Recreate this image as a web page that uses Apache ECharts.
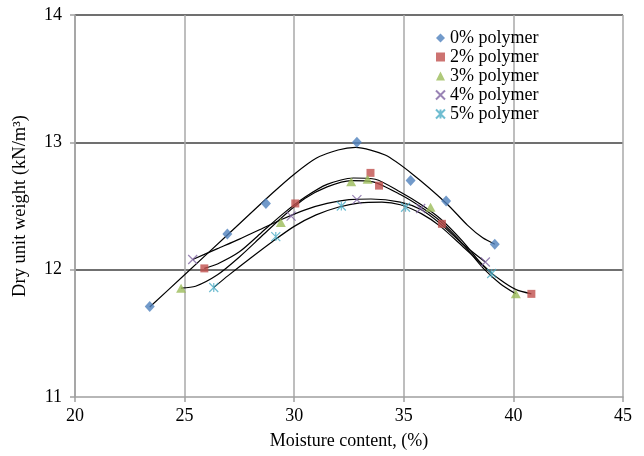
<!DOCTYPE html>
<html>
<head>
<meta charset="utf-8">
<script src="https://cdn.jsdelivr.net/npm/echarts@6/dist/echarts.min.js"></script>
<style>
html,body{margin:0;padding:0;background:#fff;}
#chart{width:644px;height:456px;}
</style>
</head>
<body>
<div id="chart"></div>
<script>
// measured points [moisture %, dry unit weight kN/m3]
var p0 = [[23.41,11.71],[26.95,12.28],[28.71,12.52],[32.86,13.0],[35.31,12.70],[36.93,12.54],[39.15,12.2]];
var p2 = [[25.90,12.01],[30.05,12.52],[33.48,12.76],[33.87,12.66],[36.74,12.36],[40.82,11.81]];
var p3 = [[24.84,11.855],[29.39,12.37],[32.60,12.69],[33.35,12.71],[36.22,12.49],[40.11,11.81]];
var p4 = [[25.37,12.08],[29.86,12.42],[32.86,12.55],[35.77,12.48],[38.72,12.06]];
var p5 = [[26.33,11.86],[29.16,12.26],[32.15,12.50],[35.08,12.49],[39.01,11.97]];

// trend lines
var t0 = [[23.41,11.707],[25,11.96],[27,12.28],[29,12.6],[30,12.75],[31,12.875],[32,12.94],[32.8,12.96],[34.15,12.9],[35.4,12.75],[36.95,12.52],[37.9,12.35],[38.6,12.25],[39.15,12.2]];
var t2 = [[25.9,12.01],[26.5,12.045],[27.5,12.14],[28.5,12.29],[29.5,12.44],[30.5,12.57],[31.5,12.67],[32.7,12.72],[33.7,12.71],[34.84,12.61],[35.8,12.51],[36.67,12.40],[37.7,12.22],[38.63,12.03],[39.4,11.92],[40.1,11.845],[40.82,11.81]];
var t3 = [[24.84,11.855],[25.5,11.87],[26.5,11.96],[27.5,12.1],[28.5,12.26],[29.5,12.42],[30.5,12.56],[31.5,12.65],[32.6,12.70],[33.6,12.69],[34.84,12.59],[35.8,12.49],[36.67,12.38],[37.7,12.2],[38.63,12.01],[39.4,11.89],[40.11,11.81]];
var t4 = [[25.37,12.08],[26.5,12.165],[27.5,12.24],[28.5,12.32],[29.5,12.40],[30.5,12.47],[31.5,12.52],[32.5,12.55],[33.5,12.555],[34.84,12.53],[35.8,12.47],[36.67,12.36],[37.7,12.2],[38.72,12.06]];
var t5 = [[26.33,11.86],[27,11.955],[28,12.09],[29,12.22],[30,12.34],[31,12.43],[32,12.49],[33,12.525],[34,12.53],[34.84,12.51],[35.8,12.44],[36.67,12.34],[37.7,12.18],[38.4,12.07],[39.01,11.97]];

var names = ['0% polymer','2% polymer','3% polymer','4% polymer','5% polymer'];
var xTicks = [20,45,5];
var yTicks = [11,14,1];

var font = 'Liberation Serif, Times New Roman, serif';

function pointSeries(name, data, symbol, size, color, stroke) {
	var s = {
		name: name,
		type: 'scatter',
		data: data,
		symbol: symbol,
		symbolSize: size,
		z: 5,
		itemStyle: {color: color}
	};
	if (stroke) {
		s.itemStyle = {color: color, borderColor: color, borderWidth: 1.2};
	}
	return s;
}

function trendSeries(data) {
	return {
		type: 'line',
		data: data,
		smooth: 0.25,
		showSymbol: false,
		silent: true,
		z: 3,
		lineStyle: {color: '#000', width: 1.2}
	};
}

var myChart = echarts.init(document.getElementById('chart'));
var option = {
	animation: false,
	grid: {left: 75, right: 21, top: 15, bottom: 59, outerBoundsMode: 'none'},
	legend: {
		data: names,
		orient: 'vertical',
		left: 430,
		top: 24,
		itemGap: 1,
		itemWidth: 9,
		itemHeight: 9,
		textStyle: {fontFamily: font, fontSize: 18, color: '#000', lineHeight: 18}
	},
	xAxis: {
		type: 'value',
		min: xTicks[0], max: xTicks[1], interval: xTicks[2],
		name: 'Moisture content, (%)',
		nameLocation: 'middle',
		nameGap: 35,
		nameTextStyle: {fontFamily: font, fontSize: 18, color: '#000'},
		axisLine: {show: true, lineStyle: {color: '#a0a0a0', width: 1.5}},
		axisTick: {show: true, length: 5, lineStyle: {color: '#a0a0a0', width: 1.5}},
		axisLabel: {fontFamily: font, fontSize: 18, color: '#000', margin: 10},
		splitLine: {show: true, lineStyle: {color: '#a8a8a8', width: 1.5}}
	},
	yAxis: {
		type: 'value',
		min: yTicks[0], max: yTicks[1], interval: yTicks[2],
		name: 'Dry unit weight (kN/m\u00b3)',
		nameLocation: 'middle',
		nameGap: 45,
		nameTextStyle: {fontFamily: font, fontSize: 18.5, color: '#000'},
		axisLine: {show: true, lineStyle: {color: '#a0a0a0', width: 1.5}},
		axisTick: {show: true, length: 5, lineStyle: {color: '#a0a0a0', width: 1.5}},
		axisLabel: {fontFamily: font, fontSize: 18, color: '#000', margin: 13},
		splitLine: {show: true, showMinLine: false, lineStyle: {color: '#404040', width: 1.5}}
	},
	series: [
		trendSeries(t0),
		trendSeries(t2),
		trendSeries(t3),
		trendSeries(t4),
		trendSeries(t5),
		pointSeries(names[0], p0, 'diamond', [10, 11], '#4f81bd'),
		pointSeries(names[1], p2, 'rect', 8, '#c0504d'),
		pointSeries(names[2], p3, 'triangle', [10, 9], '#9bbb59'),
		pointSeries(names[3], p4, 'path://M0,0L10,10M10,0L0,10', 9, '#8064a2', true),
		pointSeries(names[4], p5, 'path://M0,0L10,10M10,0L0,10M5,0L5,10', 9, '#4bacc6', true)
	]
};
myChart.setOption(option);
</script>
</body>
</html>
